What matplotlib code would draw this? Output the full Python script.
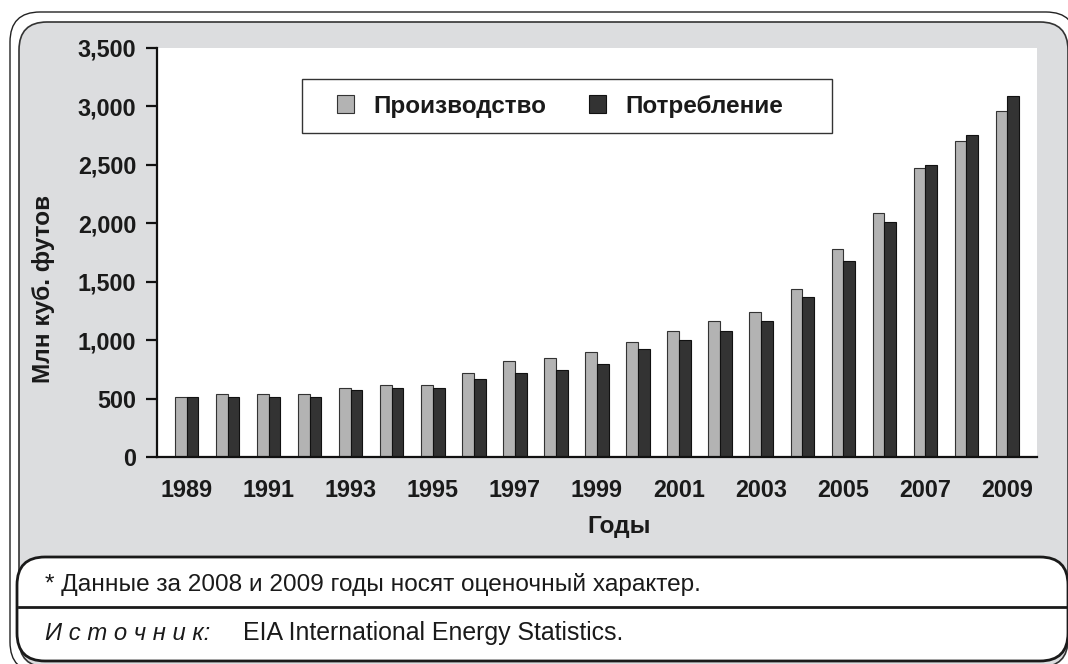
import numpy as np
import matplotlib
matplotlib.use("Agg")
import matplotlib.pyplot as plt
from matplotlib.patches import FancyBboxPatch, Rectangle

plt.rcParams['font.family'] = ['Liberation Sans', 'DejaVu Sans']

years = list(range(1989, 2010))
production = [510, 540, 540, 540, 590, 620, 620, 720, 820, 850, 900, 980, 1080, 1160,
              1240, 1440, 1780, 2090, 2470, 2705, 2960]
consumption = [510, 510, 510, 510, 570, 590, 590, 670, 720, 745, 800, 925, 1000, 1080,
               1160, 1365, 1675, 2010, 2500, 2755, 3090]
yticks = [0, 500, 1000, 1500, 2000, 2500, 3000, 3500]
ytick_labels = ['0', '500', '1,000', '1,500', '2,000', '2,500', '3,000', '3,500']
series_names = ['Производство', 'Потребление']
xlabel = 'Годы'
ylabel = 'Млн куб. футов'
note_text = '* Данные за 2008 и 2009 годы носят оценочный характер.'
source_label = 'И с т о ч н и к:'
source_text = 'EIA International Energy Statistics.'

W, H = 1068, 664
fig = plt.figure(figsize=(W / 100, H / 100), dpi=100)

bg = fig.add_axes([0, 0, 1, 1], zorder=0)
bg.set_xlim(0, W)
bg.set_ylim(H, 0)
bg.axis('off')

outer = FancyBboxPatch((10, 12), 1066, 660, boxstyle='round,pad=0,rounding_size=30',
                       facecolor='white', edgecolor='#222222', lw=1.0)
inner = FancyBboxPatch((19, 22), 1049, 645, boxstyle='round,pad=0,rounding_size=28',
                       facecolor='#dcdddf', edgecolor='#333333', lw=1.2)
note_box = FancyBboxPatch((17, 557), 1051, 104, boxstyle='round,pad=0,rounding_size=28',
                          facecolor='white', edgecolor='#1a1a1a', lw=2.0)
for p in (outer, inner, note_box):
    bg.add_patch(p)
bg.plot([19, 1066], [607, 607], color='#1a1a1a', lw=2.0)

fs_note = 17.6
bg.text(45, 584, note_text, fontsize=fs_note, va='center', ha='left', color='#1a1a1a')
bg.text(45, 633, source_label, fontsize=fs_note - 0.4, va='center', ha='left', style='italic',
        color='#1a1a1a')
bg.text(243, 633, source_text, fontsize=fs_note + 0.3, va='center', ha='left', color='#1a1a1a')

# main axes: x 157..1037, y 48..457 (pixels from top)
ax = fig.add_axes([157 / W, 1 - 457 / H, 880 / W, 409 / H], zorder=1)
ax.set_facecolor('white')
x = np.arange(len(years))
w = 0.285
ax.bar(x - w / 2, production, width=w, color='#b3b3b3', edgecolor='#333333', lw=0.8,
       label=series_names[0])
ax.bar(x + w / 2, consumption, width=w, color='#333333', edgecolor='#111111', lw=0.8,
       label=series_names[1])
ax.set_xlim(-0.72, len(years) - 1 + 0.72)
ax.set_ylim(0, 3500)
ax.set_yticks(yticks)
ax.set_yticklabels(ytick_labels)
ax.set_xticks(x[::2])
ax.set_xticklabels([str(y) for y in years[::2]])
for s in ('top', 'right'):
    ax.spines[s].set_visible(False)
for s in ('left', 'bottom'):
    ax.spines[s].set_linewidth(1.6)
    ax.spines[s].set_color('#111111')
ax.tick_params(axis='y', length=8, width=1.6, pad=7, labelsize=16.8, colors='#111111')
ax.tick_params(axis='x', length=0, pad=16, labelsize=16.8, colors='#111111')
for lab in ax.get_xticklabels() + ax.get_yticklabels():
    lab.set_fontweight('bold')
    lab.set_color('#1a1a1a')

# legend frame (drawn as a box) + legend entries
ax.add_patch(Rectangle((145 / 880, (457 - 133) / 409), 530 / 880, 54 / 409,
                       transform=ax.transAxes, facecolor='white', edgecolor='#333333',
                       lw=1.0, zorder=3))
leg = ax.legend(loc='center left', bbox_to_anchor=((337 - 157) / 880, (457 - 106) / 409),
                ncol=2, frameon=False, borderaxespad=0, borderpad=0,
                prop={'size': 17.5, 'weight': 'bold'}, handlelength=0.7, handleheight=0.7,
                handletextpad=0.8, columnspacing=1.75)
leg.set_zorder(4)
for t in leg.get_texts():
    t.set_color('#1a1a1a')

bg.text(619, 527, xlabel, fontsize=17.6, fontweight='bold', ha='center', va='center', color='#1a1a1a')
bg.text(44, 289, ylabel, fontsize=17.6, fontweight='bold', ha='center', va='center',
        rotation=90, color='#1a1a1a')

fig.savefig('out.png', dpi=100)
